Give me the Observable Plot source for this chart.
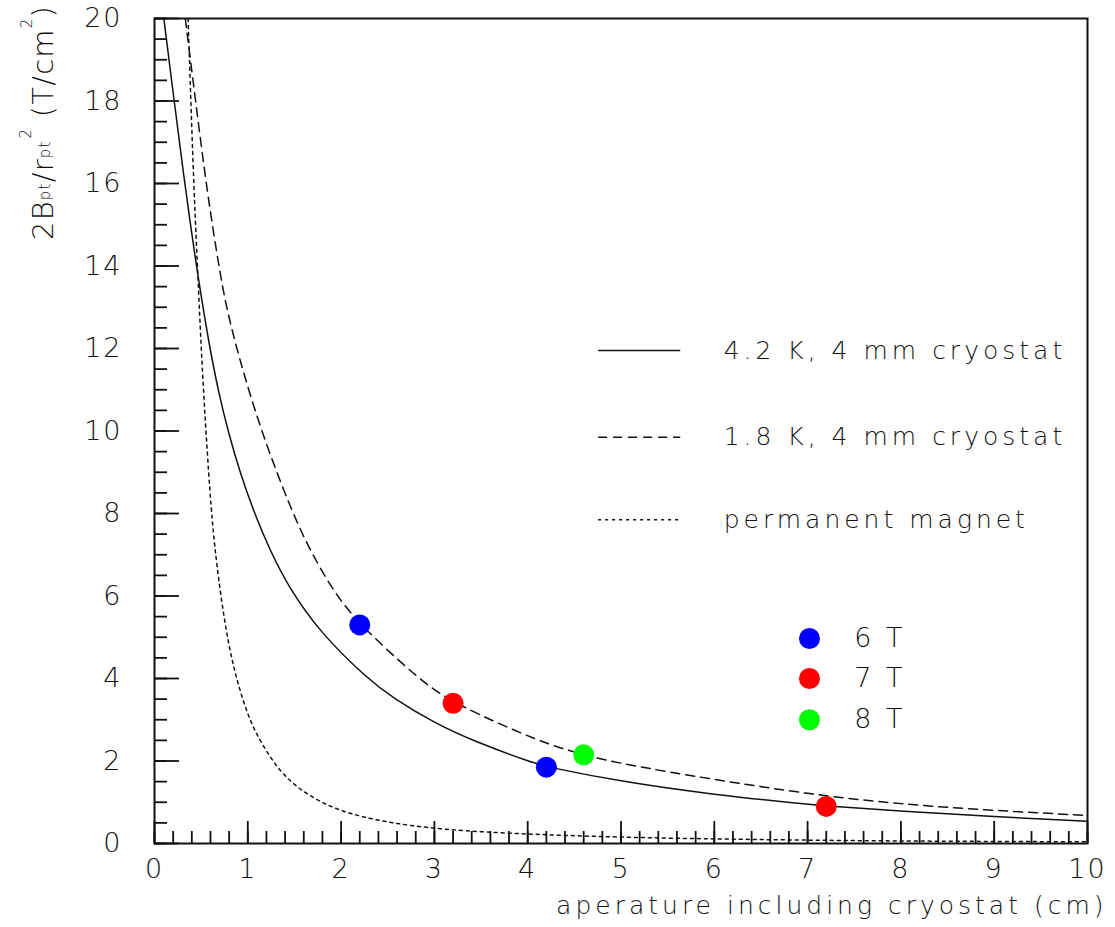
<!DOCTYPE html>
<html>
<head>
<meta charset="utf-8">
<script src="https://cdn.jsdelivr.net/npm/d3@7"></script>
<script src="https://cdn.jsdelivr.net/npm/@observablehq/plot@0.6"></script>
<style>
  html, body { margin: 0; padding: 0; background: #fff; }
  #chart svg { display: block; }
  g[aria-label="y-axis tick label"] text, g[aria-label="x-axis tick label"] text { letter-spacing: 2px; }
  g[aria-description="curve legend"] text { letter-spacing: 4px; }
  g[aria-description="field legend"] text { letter-spacing: 3px; }
  g[aria-description="x label"] text { letter-spacing: 4px; }
</style>
</head>
<body>
<div id="chart"></div>
<script>
// ---------- data ----------
const curve42K_x = [0.10, 0.20, 0.30, 0.44, 0.58, 0.69, 0.79, 0.92, 1.08, 1.24, 1.44, 1.78, 2.28, 2.56, 3.00, 3.42, 4.06, 4.20, 5.00, 6.00, 7.00, 7.20, 8.00, 9.00, 10.00];
const curve42K_y = [20.0, 18.2, 16.4, 14.1, 12.15, 10.9, 9.98, 8.96, 7.95, 7.1, 6.2, 5.1, 4.0, 3.52, 2.92, 2.48, 1.95, 1.86, 1.5, 1.18, 0.95, 0.91, 0.78, 0.65, 0.54];

const curve18K_x = [0.33, 0.44, 0.57, 0.69, 0.76, 0.89, 1.14, 1.48, 1.67, 1.92, 2.20, 2.85, 3.20, 4.14, 4.60, 5.00, 6.00, 7.00, 8.00, 9.00, 10.00];
const curve18K_y = [20.0, 18.0, 15.7, 14.0, 13.1, 11.9, 10.0, 8.0, 7.1, 6.1, 5.3, 3.95, 3.4, 2.45, 2.15, 1.93, 1.55, 1.2, 0.95, 0.8, 0.68];

const permMag_x = [0.36, 0.39, 0.42, 0.46, 0.50, 0.55, 0.61, 0.65, 0.71, 0.79, 0.89, 1.03, 1.21, 1.42, 1.78, 2.20, 2.88, 3.78, 5.00, 6.00, 7.00, 8.00, 9.00, 10.00];
const permMag_y = [20.0, 18.0, 16.0, 14.0, 12.0, 10.0, 8.0, 7.1, 6.0, 4.85, 3.88, 2.9, 2.18, 1.53, 0.97, 0.63, 0.37, 0.24, 0.15, 0.11, 0.08, 0.06, 0.05, 0.04];

const seriesNames = ["4.2 K, 4 mm cryostat", "1.8 K, 4 mm cryostat", "permanent magnet"];

const pointsX = [2.2, 3.2, 4.2, 4.6, 7.2];
const pointsY = [5.3, 3.4, 1.85, 2.15, 0.9];
const pointsField = ["6 T", "7 T", "6 T", "8 T", "7 T"];
const fieldNames = ["6 T", "7 T", "8 T"];

const xTicks = [0, 1, 2, 3, 4, 5, 6, 7, 8, 9, 10];
const yTicks = [0, 2, 4, 6, 8, 10, 12, 14, 16, 18, 20];
const xLabel = "aperature including cryostat (cm)";

// ---------- styles / layout ----------
const fieldColors = ["#0000ff", "#ff0000", "#00ff00"];
const dashes = [null, "9,6", "3,4"];
const FONT = "DejaVu Sans";
const INK = "#111";
const curveLegend = { x1: 4.76, x2: 5.64, xText: 6.1, rows: [11.95, 9.85, 7.85] };
const fieldLegend = { x: 7.02, xText: 7.5, rows: [4.97, 4.0, 3.0] };

// ---------- build tables ----------
const zip = (xs, ys) => xs.map((x, i) => ({x, y: ys[i]}));
const curves = [zip(curve42K_x, curve42K_y), zip(curve18K_x, curve18K_y), zip(permMag_x, permMag_y)];
const points = pointsX.map((x, i) => ({x, y: pointsY[i], field: pointsField[i]}));
const xMinor = d3.range(0, 10.0001, 0.2).map(v => +v.toFixed(2));
const yMinor = d3.range(0, 20.0001, 0.5).map(v => +v.toFixed(2));

// rich y-axis label (subscripts / superscripts)
const yLabelMark = () => {
  const t = d3.create("svg:text")
    .attr("transform", "translate(53,240) rotate(-90)")
    .attr("text-anchor", "start")
    .attr("font-family", FONT)
    .attr("font-weight", 200)
    .attr("font-size", 29)
    .attr("letter-spacing", "1.2px")
    .attr("fill", INK);
  t.append("tspan").text("2B");
  t.append("tspan").attr("font-size", 15).attr("dy", -3).text("pt");
  t.append("tspan").attr("dy", 3).text("/r");
  t.append("tspan").attr("font-size", 15).attr("dy", -3).text("pt");
  t.append("tspan").attr("font-size", 15).attr("dx", 2).attr("dy", -19).text("2");
  t.append("tspan").attr("dy", 22).text(" (T/cm");
  t.append("tspan").attr("font-size", 15).attr("dy", -21).text("2");
  t.append("tspan").attr("dy", 21).text(")");
  return t.node();
};

const marks = [];
// curves
curves.forEach((c, i) => {
  marks.push(Plot.line(c, {x: "x", y: "y", curve: "basis", stroke: INK, strokeWidth: 1.5, strokeDasharray: dashes[i], clip: true}));
});
// curve legend
seriesNames.forEach((name, i) => {
  marks.push(Plot.ruleY([curveLegend.rows[i]], {x1: curveLegend.x1, x2: curveLegend.x2, stroke: INK, strokeWidth: 1.5, strokeDasharray: dashes[i]}));
});
marks.push(Plot.text(seriesNames, {x: curveLegend.xText, y: (d, i) => curveLegend.rows[i], text: d => d, textAnchor: "start", fontSize: 25, fontFamily: FONT, fontWeight: 200, fill: INK, ariaDescription: "curve legend"}));
// points
marks.push(Plot.dot(points, {x: "x", y: "y", fill: "field", r: 10.5, stroke: null}));
// field legend
marks.push(Plot.dot(fieldNames, {x: fieldLegend.x, y: (d, i) => fieldLegend.rows[i], fill: d => d, r: 10.5, stroke: null}));
marks.push(Plot.text(fieldNames, {x: fieldLegend.xText, y: (d, i) => fieldLegend.rows[i], text: d => d, textAnchor: "start", fontSize: 27, fontFamily: FONT, fontWeight: 200, fill: INK, ariaDescription: "field legend"}));
// axes: inward ticks
marks.push(Plot.axisY(yMinor, {anchor: "left", tickSize: -13, tickFormat: () => "", stroke: INK, strokeWidth: 1.8, label: null}));
marks.push(Plot.axisY(yTicks, {anchor: "left", tickSize: -25, tickFormat: () => "", stroke: INK, strokeWidth: 1.8, label: null}));
marks.push(Plot.axisX(xMinor, {anchor: "bottom", tickSize: -12, tickFormat: () => "", stroke: INK, strokeWidth: 1.8, label: null}));
marks.push(Plot.axisX(xTicks, {anchor: "bottom", tickSize: -22, tickFormat: () => "", stroke: INK, strokeWidth: 1.8, label: null}));
// tick labels
marks.push(Plot.axisY(yTicks, {anchor: "left", tickSize: 0, tickPadding: 32, fontSize: 27, fontFamily: FONT, fontWeight: 200, fill: INK, label: null}));
marks.push(Plot.axisX(xTicks, {anchor: "bottom", tickSize: 0, tickPadding: 15, fontSize: 27, fontFamily: FONT, fontWeight: 200, fill: INK, label: null}));
// frame
marks.push(Plot.frame({stroke: INK, strokeWidth: 2}));
// axis titles
marks.push(Plot.text([xLabel], {frameAnchor: "bottom-right", dx: 20, dy: 70, text: d => d, textAnchor: "end", lineAnchor: "bottom", fontSize: 25, fontFamily: FONT, fontWeight: 200, fill: INK, ariaDescription: "x label"}));
marks.push(yLabelMark);

const chart = Plot.plot({
  width: 1115,
  height: 927,
  marginTop: 18,
  marginRight: 28,
  marginBottom: 84,
  marginLeft: 154,
  style: {fontFamily: FONT, background: "#fff", color: INK},
  x: {domain: [0, 10]},
  y: {domain: [0, 20]},
  color: {domain: fieldNames, range: fieldColors},
  marks
});
document.getElementById("chart").append(chart);
</script>
</body>
</html>
